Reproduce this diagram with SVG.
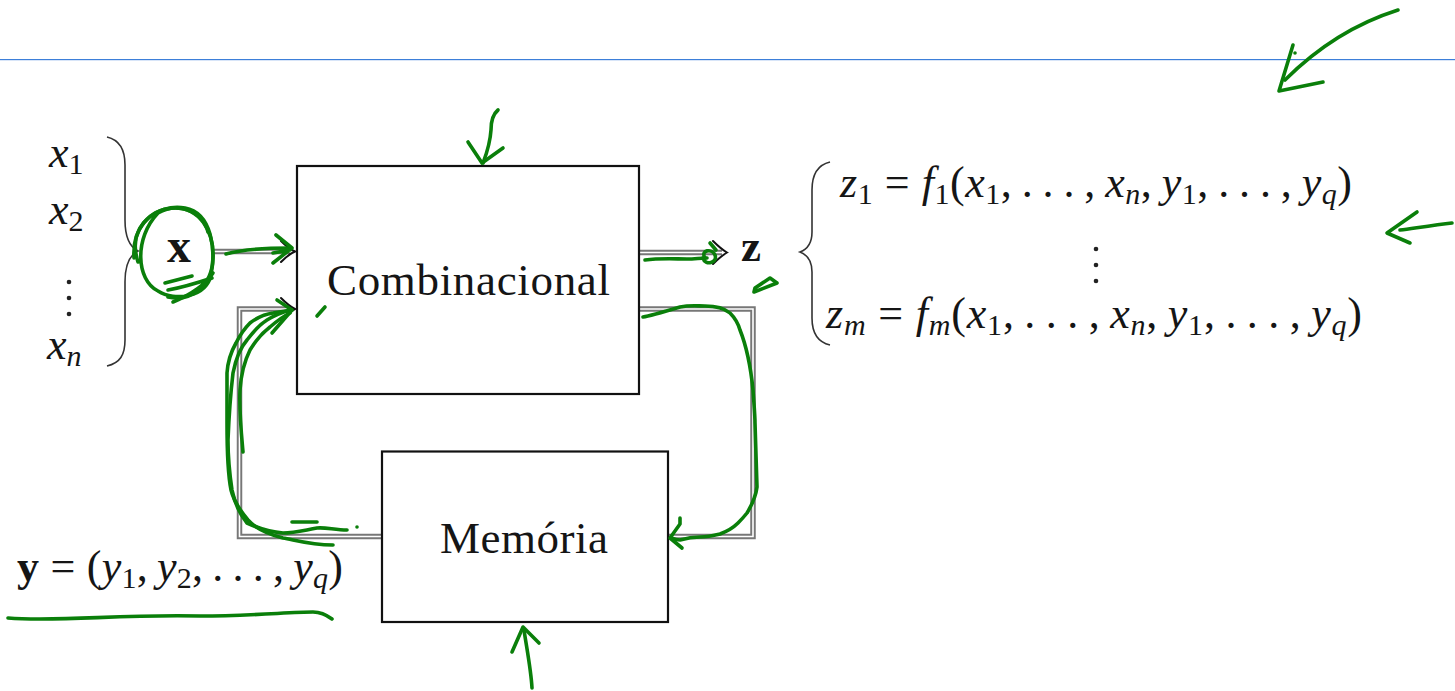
<svg xmlns="http://www.w3.org/2000/svg" width="1455" height="691" viewBox="0 0 1455 691">
<style>
.t{font-family:"Liberation Serif",serif;fill:#151515}
.m{font-size:44px}
.i{font-style:italic}
.b{font-weight:bold}
.s{font-size:30px}
.box{fill:#fff;stroke:#111;stroke-width:2.2}
.dblo{fill:none;stroke:#777;stroke-width:5.5}
.dbli{fill:none;stroke:#fff;stroke-width:1.6}
.head{fill:none;stroke:#111;stroke-width:2;stroke-linecap:round}
.br{fill:none;stroke:#333;stroke-width:1.6}
.g{fill:none;stroke:#0a7f0a;stroke-width:3.6;stroke-linecap:round;stroke-linejoin:round}
</style>
<rect width="1455" height="691" fill="#fff"/>
<rect x="0" y="59" width="1455" height="1.2" fill="#3d7fd9"/>

<g id="connectors">
  <path class="dblo" d="M212 251.5 H290"/>
  <path class="dbli" d="M212 251.5 H290"/>
  <path class="head" d="M281 241 Q289 249 295 251.5 Q289 254 281 262"/>
  <path class="dblo" d="M639 252.5 H722"/>
  <path class="dbli" d="M639 252.5 H722"/>
  <path class="head" d="M713 241 Q721 249 727 252.5 Q721 256 713 264"/>
  <path class="dblo" d="M639 309 H753 V536.5 H669"/>
  <path class="dbli" d="M639 309 H753 V536.5 H669"/>
  <path class="dblo" d="M382 536.5 H239.5 V309 H290"/>
  <path class="dbli" d="M382 536.5 H239.5 V309 H290"/>
  <path class="head" d="M281 298 Q289 306 295 309 Q289 312 281 320"/>
</g>

<g id="combinacional">
  <rect class="box" x="297" y="166" width="342" height="228"/>
  <text class="t" x="327" y="295" font-size="45" textLength="283" lengthAdjust="spacing">Combinacional</text>
</g>

<g id="memoria">
  <rect class="box" x="382" y="451.5" width="286" height="170.5"/>
  <text class="t" x="440" y="553" font-size="45" textLength="168" lengthAdjust="spacing">Memória</text>
</g>

<g id="inputs">
  <text class="t m" x="49" y="167"><tspan class="i">x</tspan><tspan class="s" dy="7">1</tspan></text>
  <text class="t m" x="49" y="224"><tspan class="i">x</tspan><tspan class="s" dy="7">2</tspan></text>
  <circle cx="69" cy="282" r="2.3" fill="#222"/>
  <circle cx="69" cy="298" r="2.3" fill="#222"/>
  <circle cx="69" cy="314" r="2.3" fill="#222"/>
  <text class="t m" x="47" y="359"><tspan class="i">x</tspan><tspan class="s i" dy="7">n</tspan></text>
  <path class="br" d="M107 137 C120 140 125 150 125 165 L125 220 C125 238 130 247 138 251 C130 255 125 264 125 282 L125 340 C125 355 120 363 107 366"/>
  <text class="t b" x="167" y="262" font-size="48">x</text>
</g>

<g id="outputs">
  <text class="t b" x="741" y="261" font-size="45">z</text>
  <path class="br" d="M830 162 C817 165 812 175 812 190 L812 232 C812 243 808 249 800 252 C808 255 812 261 812 272 L812 318 C812 333 817 342 830 345"/>
  <text class="t m" x="840" y="197" textLength="512" lengthAdjust="spacing"><tspan class="i">z</tspan><tspan class="s" dy="7">1</tspan><tspan dy="-7"> = </tspan><tspan class="i">f</tspan><tspan class="s" dy="7">1</tspan><tspan dy="-7">(</tspan><tspan class="i">x</tspan><tspan class="s" dy="7">1</tspan><tspan dy="-7">,&#8201;.&#8201;.&#8201;.&#8201;,&#8201;</tspan><tspan class="i">x</tspan><tspan class="s i" dy="7">n</tspan><tspan dy="-7">,&#8201;</tspan><tspan class="i">y</tspan><tspan class="s" dy="7">1</tspan><tspan dy="-7">,&#8201;.&#8201;.&#8201;.&#8201;,&#8201;</tspan><tspan class="i">y</tspan><tspan class="s i" dy="7">q</tspan><tspan dy="-7">)</tspan></text>
  <circle cx="1096" cy="249" r="2.3" fill="#222"/>
  <circle cx="1096" cy="265" r="2.3" fill="#222"/>
  <circle cx="1096" cy="281" r="2.3" fill="#222"/>
  <text class="t m" x="826" y="328" textLength="536" lengthAdjust="spacing"><tspan class="i">z</tspan><tspan class="s i" dy="7">m</tspan><tspan dy="-7"> = </tspan><tspan class="i">f</tspan><tspan class="s i" dy="7">m</tspan><tspan dy="-7">(</tspan><tspan class="i">x</tspan><tspan class="s" dy="7">1</tspan><tspan dy="-7">,&#8201;.&#8201;.&#8201;.&#8201;,&#8201;</tspan><tspan class="i">x</tspan><tspan class="s i" dy="7">n</tspan><tspan dy="-7">,&#8201;</tspan><tspan class="i">y</tspan><tspan class="s" dy="7">1</tspan><tspan dy="-7">,&#8201;.&#8201;.&#8201;.&#8201;,&#8201;</tspan><tspan class="i">y</tspan><tspan class="s i" dy="7">q</tspan><tspan dy="-7">)</tspan></text>
</g>

<g id="state-label">
  <text class="t m" x="17" y="581" textLength="326" lengthAdjust="spacing"><tspan class="b">y</tspan><tspan> = (</tspan><tspan class="i">y</tspan><tspan class="s" dy="7">1</tspan><tspan dy="-7">,&#8201;</tspan><tspan class="i">y</tspan><tspan class="s" dy="7">2</tspan><tspan dy="-7">,&#8201;.&#8201;.&#8201;.&#8201;,&#8201;</tspan><tspan class="i">y</tspan><tspan class="s i" dy="7">q</tspan><tspan dy="-7">)</tspan></text>
</g>

<g id="annotations">
  <path class="g" d="M1398 10 C1360 22 1320 45 1285 80"/>
  <path class="g" d="M1293 45 L1279 91 L1323 82"/>
  <circle cx="1295" cy="53" r="1.8" fill="#0a7f0a"/>
  <path class="g" d="M1452 223 C1435 225 1415 228 1400 230"/>
  <path class="g" d="M1417 212 L1387 233 L1410 243"/>
  <path class="g" d="M498 110 C492 115 491 122 491 130 C490 145 486 155 483 163"/>
  <path class="g" d="M468 142 L482 163 L503 148"/>
  <path class="g" d="M532 688 C531 670 527 650 524 630"/>
  <path class="g" d="M512 652 L523 627 L539 643"/>
  <path class="g" d="M138 262 C126 225 158 203 185 208 C212 213 216 250 211 275 C206 297 175 302 158 291 C136 280 134 238 158 213 C175 203 202 208 208 232"/>
  <path class="g" d="M134 258 C132 228 150 210 172 208 C200 206 214 232 213 258 C212 287 190 302 168 297"/>
  <path class="g" d="M165 283 L192 276 M173 302 C190 295 205 285 213 273 M168 290 C185 287 200 282 212 278"/>
  <path class="g" d="M226 254 C240 250 260 248 290 248"/>
  <path class="g" d="M276 235 L292 248 L273 263 M273 253 L290 250"/>
  <path class="g" d="M333 545 C310 545 295 540 283 538 C268 534 255 528 248 520 C238 508 233 498 231 490 C227 470 227 440 227 423 C227 400 227 385 227 373 C228 358 232 350 236 343 C240 335 245 328 250 323 C258 317 265 314 273 313 L292 310"/>
  <path class="g" d="M347 530 C335 530 325 527 317 528 C305 530 295 533 283 533 C270 532 258 528 247 523 C238 512 234 500 232 490 C229 470 228 455 228 440 C229 415 231 390 233 373 C236 358 240 348 247 340 C253 332 259 325 267 320 C275 315 283 312 290 310"/>
  <path class="g" d="M243 452 C241 430 239 410 240 390 C241 375 244 362 250 350 C256 340 262 333 270 327 C278 320 284 316 290 313"/>
  <path class="g" d="M272 333 L292 310 L277 300"/>
  <path class="g" d="M292 522 L317 522"/>
  <circle cx="357" cy="527" r="1.8" fill="#0a7f0a"/>
  <path class="g" d="M317 316 L325 307"/>
  <path class="g" d="M643 317 C650 316 660 313 680 307 C690 305 697 306 705 306 C715 306 723 307 730 313 C735 318 738 323 740 330 C746 345 750 360 753 390 C754 405 755 415 755 423 L757 487 C756 495 753 503 747 513 C743 518 740 521 738 523 C733 528 728 531 720 534 C712 536 705 537 700 537 C693 537 687 538 680 540 C676 540 674 539 672 538"/>
  <path class="g" d="M680 518 L680 524 L670 538 L682 548"/>
  <path class="g" d="M645 260 C660 258 675 259 687 259 C695 259 700 258 707 258"/>
  <path class="g" d="M705 258 C700 250 712 248 715 255 C718 263 705 266 703 258"/>
  <path class="g" d="M710 243 L716 250"/>
  <path class="g" d="M754 292 L777 283 L770 278 L755 288 Z"/>
  <path class="g" d="M8 618 C60 622 120 614 200 616 C250 616 290 612 313 612 C322 612 328 616 332 619"/>
</g>
</svg>
